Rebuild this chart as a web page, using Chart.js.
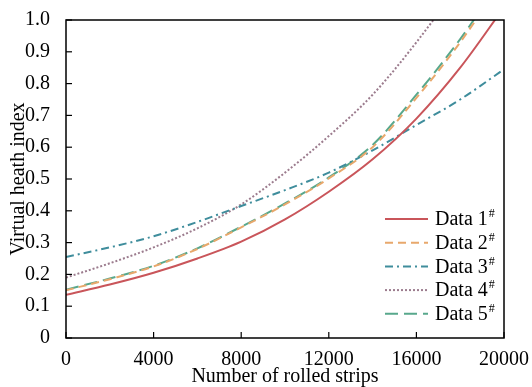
<!DOCTYPE html>
<html>
<head>
<meta charset="utf-8">
<script src="https://cdn.jsdelivr.net/npm/chart.js@4/dist/chart.umd.min.js"></script>
<style>
  html, body { margin: 0; padding: 0; background: #fff; }
  #wrap { width: 532px; height: 387px; }
</style>
</head>
<body>
<div id="wrap"><canvas id="heathChart" width="532" height="387"></canvas></div>
<script>
// Number of rolled strips (x values)
const strips = [0, 2000, 4000, 6000, 8000, 10000, 12000, 14000, 16000, 18000, 20000];

// Virtual heath index for each data set
const data1 = [0.136, 0.168, 0.205, 0.250, 0.303, 0.373, 0.460, 0.562, 0.690, 0.850, 1.040];
const data2 = [0.150, 0.185, 0.225, 0.280, 0.348, 0.420, 0.502, 0.600, 0.755, 0.930, 1.130];
const data3 = [0.255, 0.285, 0.320, 0.365, 0.415, 0.465, 0.520, 0.590, 0.670, 0.750, 0.845];
const data4 = [0.190, 0.235, 0.285, 0.345, 0.420, 0.520, 0.635, 0.765, 0.930, 1.120, 1.350];
const data5 = [0.152, 0.187, 0.227, 0.282, 0.350, 0.423, 0.505, 0.607, 0.765, 0.940, 1.140];

const labels = ["Data 1", "Data 2", "Data 3", "Data 4", "Data 5"];
const xTicks = [0, 4000, 8000, 12000, 16000, 20000];

const FONT = "'Liberation Serif', 'Times New Roman', serif";

function toPoints(values) {
  return strips.map((s, i) => ({ x: s, y: values[i] }));
}

const styles = [
  { color: "#c9555a", dash: [] },
  { color: "#e8a86c", dash: [8, 5] },
  { color: "#3f8d9c", dash: [8, 4, 2, 4] },
  { color: "#9c7c8e", dash: [2, 2] },
  { color: "#58a88c", dash: [13, 6] },
];

const series = [data1, data2, data3, data4, data5];

const datasets = series.map((vals, i) => ({
  label: labels[i],
  data: toPoints(vals),
  borderColor: styles[i].color,
  borderDash: styles[i].dash,
  borderWidth: 2,
  pointRadius: 0,
  fill: false,
  cubicInterpolationMode: "monotone",
}));

// frame + inward tick marks
const framePlugin = {
  id: "frame",
  afterDatasetsDraw(chart) {
    const { ctx, chartArea: a, scales } = chart;
    ctx.save();
    ctx.strokeStyle = "#000";
    ctx.lineWidth = 1.5;
    ctx.setLineDash([]);
    ctx.strokeRect(a.left, a.top, a.right - a.left, a.bottom - a.top);
    ctx.lineWidth = 1.2;
    scales.y.ticks.forEach((t, i) => {
      const y = scales.y.getPixelForTick(i);
      ctx.beginPath();
      ctx.moveTo(a.left, y);
      ctx.lineTo(a.left + 6, y);
      ctx.stroke();
    });
    scales.x.ticks.forEach((t, i) => {
      const x = scales.x.getPixelForTick(i);
      ctx.beginPath();
      ctx.moveTo(x, a.bottom);
      ctx.lineTo(x, a.bottom - 6);
      ctx.stroke();
    });
    ctx.restore();
  },
};

// legend with superscript #
const legendPlugin = {
  id: "supLegend",
  afterDraw(chart) {
    const { ctx, chartArea: a } = chart;
    const x0 = a.right - 119;
    const y0 = a.bottom - 119;
    ctx.save();
    chart.data.datasets.forEach((ds, i) => {
      const y = y0 + i * 23.7;
      ctx.strokeStyle = ds.borderColor;
      ctx.lineWidth = 2;
      ctx.setLineDash(ds.borderDash);
      ctx.beginPath();
      ctx.moveTo(x0, y);
      ctx.lineTo(x0 + 43, y);
      ctx.stroke();
      ctx.fillStyle = "#000";
      ctx.textBaseline = "middle";
      ctx.font = "20px " + FONT;
      ctx.fillText(ds.label, x0 + 50, y + 1);
      const w = ctx.measureText(ds.label).width;
      ctx.font = "12px " + FONT;
      ctx.fillText("#", x0 + 50 + w + 1, y - 5);
    });
    ctx.restore();
  },
};

const ctx = document.getElementById("heathChart").getContext("2d");
const heathChart = new Chart(ctx, {
  type: "line",
  data: { datasets: datasets },
  options: {
    responsive: false,
    animation: false,
    layout: { padding: { top: 17, right: 28, left: 0, bottom: 0 } },
    plugins: {
      legend: { display: false },
      tooltip: { enabled: false },
    },
    scales: {
      x: {
        type: "linear",
        min: 0,
        max: 20000,
        afterBuildTicks: (scale) => {
          scale.ticks = xTicks.map((v) => ({ value: v }));
        },
        afterFit: (scale) => {
          scale.height = 49;
        },
        grid: { display: false },
        border: { display: false },
        ticks: {
          color: "#000",
          font: { family: FONT, size: 20 },
          padding: 2,
          maxRotation: 0,
          callback: (v) => String(v),
        },
        title: {
          display: true,
          text: "Number of rolled strips",
          color: "#000",
          font: { family: FONT, size: 20 },
          padding: { top: 0, bottom: -2 },
        },
      },
      y: {
        min: 0,
        max: 1,
        afterFit: (scale) => {
          scale.width = 66;
        },
        grid: { display: false },
        border: { display: false },
        ticks: {
          stepSize: 0.1,
          color: "#000",
          font: { family: FONT, size: 20 },
          padding: 8,
          callback: (v) => (v === 0 ? "0" : v.toFixed(1)),
        },
        title: {
          display: true,
          text: "Virtual heath index",
          color: "#000",
          font: { family: FONT, size: 20 },
          padding: { top: 7, bottom: 0 },
        },
      },
    },
  },
  plugins: [framePlugin, legendPlugin],
});
</script>
</body>
</html>
